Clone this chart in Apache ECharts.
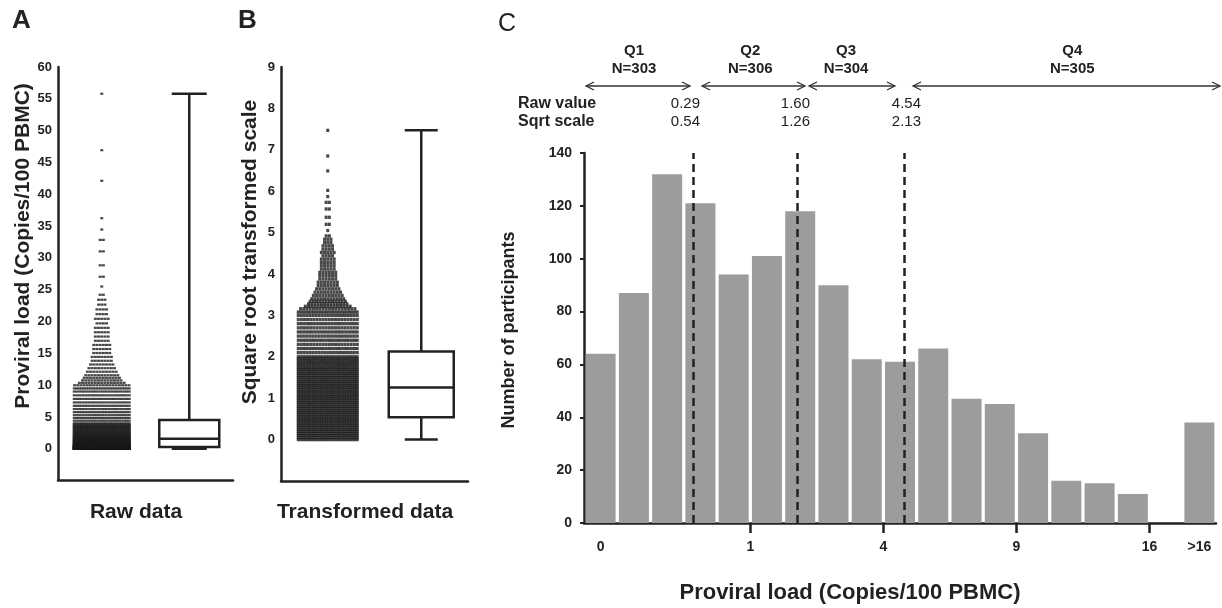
<!DOCTYPE html>
<html><head><meta charset="utf-8">
<script src="https://cdn.jsdelivr.net/npm/echarts@6/dist/echarts.min.js"></script>
<style>html,body{margin:0;padding:0;background:#fff}#c{width:1222px;height:608px}</style>
</head><body><div id="c"></div>
<script>
const FONT = "'Liberation Sans', Arial, Helvetica, sans-serif";
const INK = '#222';

// ---------- Panel C: histogram on square-root scale ----------
const binCenters = [-0.125,0.125,0.375,0.625,0.875,1.125,1.375,1.625,1.875,2.125,2.375,2.625,2.875,3.125,3.375,3.625,3.875,4.375];
const histCounts = [64,87,132,121,94,101,118,90,62,61,66,47,45,34,16,15,11,38];
const xTickPos  = [-0.125,1,2,3,4,4.375];
const xTickText = ['0','1','4','9','16','>16'];
const xTickMarks = [1,2,3,4];

const qNames  = ['Q1','Q2','Q3','Q4'];
const qCounts = [303,306,304,305];
const qArrowFrom = [-0.235,0.637,1.441,2.223];
const qArrowTo   = [0.547,1.411,2.087,4.53];
const qLabelX    = [0.126,1.0,1.72,3.42];
const cutRaw  = ['0.29','1.60','4.54'];
const cutSqrt = ['0.54','1.26','2.13'];
const cutTextX = [0.622,1.449,2.283];
const cutLineX = [0.57,1.35,2.16];

// ---------- Panels A & B ----------
const aTicks = [0,5,10,15,20,25,30,35,40,45,50,55,60];
const bTicks = [0,1,2,3,4,5,6,7,8,9];
const rawBox  = [0, 0.29, 1.60, 4.54, 55.8];   // min, Q1, median, Q3, max
const sqrtBox = [0, 0.54, 1.26, 2.13, 7.47];

// dot-plot rows on the square-root scale: [value, dots in row]
const swarmRows = [
 [0.00,24],[0.05,22],[0.10,24],[0.15,23],[0.20,24],[0.25,24],[0.30,22],[0.35,24],[0.40,23],[0.45,24],
 [0.50,24],[0.55,24],[0.60,22],[0.65,24],[0.70,23],[0.75,24],[0.80,24],[0.85,22],[0.90,24],[0.95,23],
 [1.00,24],[1.05,24],[1.10,23],[1.15,24],[1.20,22],[1.25,24],[1.30,24],[1.35,23],[1.40,24],[1.45,22],
 [1.50,24],[1.55,23],[1.60,24],[1.65,22],[1.70,24],[1.75,23],[1.80,21],[1.85,24],[1.90,22],[1.95,23],
 [2.00,24],[2.10,21],[2.20,23],[2.30,20],[2.40,23],[2.50,21],[2.60,22],[2.70,20],[2.80,22],[2.90,20],
 [3.00,21],[3.08,24],
 [3.16,18],[3.22,15],[3.28,13],[3.34,12],[3.40,11],[3.48,10],[3.56,9],[3.64,8],[3.72,7],[3.80,7],
 [3.88,6],[3.96,6],[4.04,6],[4.12,5],[4.20,5],[4.28,5],[4.36,5],[4.44,4],[4.52,5],[4.60,4],
 [4.68,4],[4.76,3],[4.84,3],[4.92,2],[5.05,1],[5.20,2],[5.37,2],[5.57,2],[5.73,2],[5.87,1],
 [6.02,1],[6.49,1],[6.85,1],[7.47,1]
];

function swarm(rows, toY, maxW) {
  const out = [];
  rows.forEach(([v, n]) => {
    const s = n > 1 ? Math.min(3.2, maxW / (n - 1)) : 0;
    for (let i = 0; i < n; i++) {
      out.push({ value: [0, toY(v)], symbolOffset: [(i - (n - 1) / 2) * s, 0] });
    }
  });
  return out;
}

function boxRender(capW, boxW) {
  return function (params, api) {
    const c = api.value(0);
    const p = [1,2,3,4,5].map(k => api.coord([c, api.value(k)]));
    const x = p[0][0], yMin = p[0][1], yQ1 = p[1][1], yMed = p[2][1], yQ3 = p[3][1], yMax = p[4][1];
    const st = { stroke: INK, lineWidth: 2.5, fill: null };
    return { type: 'group', children: [
      { type: 'line', shape: { x1: x, y1: yMax, x2: x, y2: yQ3 }, style: st },
      { type: 'line', shape: { x1: x, y1: yQ1, x2: x, y2: yMin }, style: st },
      { type: 'line', shape: { x1: x - capW/2, y1: yMax, x2: x + capW/2, y2: yMax }, style: st },
      { type: 'line', shape: { x1: x - capW/2, y1: yMin, x2: x + capW/2, y2: yMin }, style: st },
      { type: 'rect', shape: { x: x - boxW/2, y: yQ3, width: boxW, height: yQ1 - yQ3 }, style: { stroke: INK, lineWidth: 2.5, fill: '#fff' } },
      { type: 'line', shape: { x1: x - boxW/2, y1: yMed, x2: x + boxW/2, y2: yMed }, style: st }
    ]};
  };
}

function txt(text, x, y, font, align, vAlign, rot) {
  return { type: 'text', x: x, y: y, rotation: rot || 0, silent: true,
    style: { text: text, font: font, fill: INK, align: align || 'center', verticalAlign: vAlign || 'middle',
             textAlign: align || 'center', textVerticalAlign: vAlign || 'middle' } };
}

const axisLine = { show: true, onZero: false, lineStyle: { color: INK, width: 2.5 } };

const chart = echarts.init(document.getElementById('c'), null, { renderer: 'canvas' });
chart.setOption({
  animation: false,
  backgroundColor: '#fff',
  textStyle: { fontFamily: FONT },
  grid: [
    { left: 58,  top: 67,  right: 989, bottom: 128 },
    { left: 281, top: 67,  right: 754, bottom: 127 },
    { left: 584, top: 153, right: 6,   bottom: 85 }
  ],
  xAxis: [
    { gridIndex: 0, type: 'category', data: ['scatter','box'], axisLine: axisLine, axisTick: { show: false }, axisLabel: { show: false } },
    { gridIndex: 1, type: 'category', data: ['scatter','box'], axisLine: axisLine, axisTick: { show: false }, axisLabel: { show: false } },
    { gridIndex: 2, type: 'value', min: -0.25, max: 4.5, splitLine: { show: false }, axisLine: axisLine,
      axisTick: { show: true, customValues: xTickMarks, length: 10, lineStyle: { color: INK, width: 2.5 } },
      axisLabel: { customValues: xTickPos, margin: 17, color: INK, fontWeight: 'bold', fontSize: 14, fontFamily: FONT,
        formatter: v => { const i = xTickPos.findIndex(p => Math.abs(p - v) < 1e-6); return i >= 0 ? xTickText[i] : ''; } } }
  ],
  yAxis: [
    { gridIndex: 0, type: 'value', min: -4.9, max: 60, splitLine: { show: false }, axisLine: axisLine,
      axisTick: { customValues: aTicks, length: 5, lineStyle: { color: INK, width: 2 } },
      axisLabel: { customValues: aTicks, margin: 6, color: INK, fontWeight: 'bold', fontSize: 13, fontFamily: FONT } },
    { gridIndex: 1, type: 'value', min: -1, max: 9, splitLine: { show: false }, axisLine: axisLine,
      axisTick: { customValues: bTicks, length: 5, lineStyle: { color: INK, width: 2 } },
      axisLabel: { customValues: bTicks, margin: 6, color: INK, fontWeight: 'bold', fontSize: 13, fontFamily: FONT } },
    { gridIndex: 2, type: 'value', min: 0, max: 140, interval: 20, splitLine: { show: false }, axisLine: axisLine,
      axisTick: { length: 4, lineStyle: { color: INK, width: 2 } },
      axisLabel: { margin: 12, color: INK, fontWeight: 'bold', fontSize: 14, fontFamily: FONT } }
  ],
  series: [
    { type: 'scatter', xAxisIndex: 0, yAxisIndex: 0, symbol: 'rect', symbolSize: [3, 2.2], silent: true,
      itemStyle: { color: '#1a1a1a' }, data: swarm(swarmRows, v => v * v, 55) },
    { type: 'custom', xAxisIndex: 0, yAxisIndex: 0, renderItem: boxRender(35, 60), data: [[1].concat(rawBox)], silent: true },
    { type: 'scatter', xAxisIndex: 1, yAxisIndex: 1, symbol: 'rect', symbolSize: [3, 3.3], silent: true,
      itemStyle: { color: '#1a1a1a' }, data: swarm(swarmRows, v => v, 59) },
    { type: 'custom', xAxisIndex: 1, yAxisIndex: 1, renderItem: boxRender(33, 65), data: [[1].concat(sqrtBox)], silent: true },
    { type: 'bar', xAxisIndex: 2, yAxisIndex: 2, barWidth: 30, silent: true,
      itemStyle: { color: '#9c9c9c' },
      data: binCenters.map((x, i) => [x, histCounts[i]]),
      markLine: { silent: true, symbol: ['none','none'], label: { show: false },
        lineStyle: { color: INK, width: 2.5, type: [8, 5] },
        data: cutLineX.map(x => ({ xAxis: x })) } },
    { type: 'custom', xAxisIndex: 2, yAxisIndex: 2, silent: true, clip: false,
      data: qNames.map((q, i) => [qArrowFrom[i], qArrowTo[i], qLabelX[i], i]),
      renderItem: function (params, api) {
        const top = api.coord([0, 140])[1];
        const x1 = api.coord([api.value(0), 0])[0];
        const x2 = api.coord([api.value(1), 0])[0];
        const xl = api.coord([api.value(2), 0])[0];
        const i = api.value(3);
        const y = top - 67;
        const ls = { stroke: '#333', lineWidth: 1.3, fill: null };
        return { type: 'group', children: [
          { type: 'line', shape: { x1: x1, y1: y, x2: x2, y2: y }, style: ls },
          { type: 'polyline', shape: { points: [[x1 + 8, y - 4], [x1, y], [x1 + 8, y + 4]] }, style: ls },
          { type: 'polyline', shape: { points: [[x2 - 8, y - 4], [x2, y], [x2 - 8, y + 4]] }, style: ls },
          txt(qNames[i], xl, top - 102, 'bold 15px ' + FONT),
          txt('N=' + qCounts[i], xl, top - 84, 'bold 15px ' + FONT)
        ]};
      } },
    { type: 'custom', xAxisIndex: 2, yAxisIndex: 2, silent: true, clip: false,
      data: cutTextX.map((x, i) => [x, i]),
      renderItem: function (params, api) {
        const top = api.coord([0, 140])[1];
        const x = api.coord([api.value(0), 0])[0];
        const i = api.value(1);
        return { type: 'group', children: [
          txt(cutRaw[i], x, top - 49, '15px ' + FONT, 'right'),
          txt(cutSqrt[i], x, top - 31, '15px ' + FONT, 'right')
        ]};
      } }
  ],
  graphic: [
    txt('A', 12, 21, 'bold 26px ' + FONT, 'left'),
    txt('B', 238, 21, 'bold 26px ' + FONT, 'left'),
    txt('C', 498, 24, '25px ' + FONT, 'left'),
    txt('Proviral load (Copies/100 PBMC)', 23, 246, 'bold 21px ' + FONT, 'center', 'middle', Math.PI / 2),
    txt('Square root transformed scale', 250, 252, 'bold 21px ' + FONT, 'center', 'middle', Math.PI / 2),
    txt('Raw data', 136, 512, 'bold 21px ' + FONT),
    txt('Transformed data', 365, 512, 'bold 21px ' + FONT),
    txt('Number of participants', 509, 330, 'bold 18px ' + FONT, 'center', 'middle', Math.PI / 2),
    txt('Proviral load (Copies/100 PBMC)', 850, 593, 'bold 22px ' + FONT),
    txt('Raw value', 518, 104, 'bold 16px ' + FONT, 'left'),
    txt('Sqrt scale', 518, 122, 'bold 16px ' + FONT, 'left')
  ]
});
</script></body></html>
